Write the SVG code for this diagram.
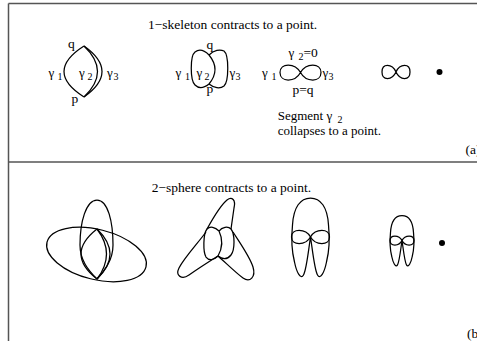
<svg xmlns="http://www.w3.org/2000/svg" width="477" height="341" viewBox="0 0 477 341">
<style>
.ln{fill:none;stroke:#000;stroke-width:1.25;stroke-linejoin:round}
.fr{fill:none;stroke:#555;stroke-width:1.5}
.t{font-family:"Liberation Serif","Times New Roman",serif;font-size:13.5px;fill:#000}
.c{font-family:"Liberation Serif","Times New Roman",serif;font-size:13px;fill:#000}
.g{font-family:"Liberation Serif","Times New Roman",serif;font-size:13px;fill:#000}
.s{font-family:"Liberation Serif","Times New Roman",serif;font-size:10px;fill:#000}
.dot{fill:#000}
</style>
<g id="frame">
<line class="fr" x1="8.5" y1="3.5" x2="477" y2="3.5"/>
<line class="fr" x1="8.5" y1="3.5" x2="8.5" y2="341"/>
<line class="fr" x1="8.5" y1="162" x2="477" y2="162"/>
</g>
<g id="panel-a">
<text class="t" x="148" y="28.5">1−skeleton contracts to a point.</text>
<g id="a1">
<path class="ln" d="M84,46 Q44,71.5 84,97"/>
<path class="ln" d="M84,46 Q111,71.5 84,97"/>
<path class="ln" d="M84,46 Q120,71.5 84,97"/>
<text class="t" x="68" y="47.5">q</text>
<text class="t" x="71.5" y="103">p</text>
<text class="g" x="48.5" y="77">γ</text><text class="s" x="57.5" y="80">1</text>
<text class="g" x="79" y="77">γ</text><text class="s" x="87.5" y="80">2</text>
<text class="g" x="107" y="77">γ</text><text class="s" x="113.5" y="80">3</text>
</g>
<g id="a2">
<path class="ln" d="M209,55 C204,50 199,49 195,52 C190,56 190,80 195,85 C199,89 204,88 209,84"/>
<path class="ln" d="M209,55 Q221,69.5 209,84"/>
<path class="ln" d="M209,55 C214,50 220,49 224,51 C229,55 229,81 224,86 C220,89 214,88 209,84"/>
<text class="t" x="206.5" y="49">q</text>
<text class="t" x="206.5" y="93">p</text>
<text class="g" x="175.5" y="77">γ</text><text class="s" x="185" y="80">1</text>
<text class="g" x="196.5" y="77">γ</text><text class="s" x="204.5" y="80">2</text>
<text class="g" x="229.5" y="77">γ</text><text class="s" x="235.5" y="80">3</text>
</g>
<g id="a3">
<path class="ln" d="M300.5,72.5 C306,62.5 321,62.5 321,72.5 C321,82.5 306,82.5 300.5,72.5 C295,62.5 280,62.5 280,72.5 C280,82.5 295,82.5 300.5,72.5 Z"/>
<text class="g" x="288.5" y="57">γ</text><text class="s" x="298.5" y="60">2</text><text class="t" x="303.5" y="57">=0</text>
<text class="g" x="262" y="77">γ</text><text class="s" x="271.5" y="80">1</text>
<text class="g" x="322.5" y="77">γ</text><text class="s" x="328.5" y="80">3</text>
<text class="t" x="292.5" y="94">p=q</text>
<text class="c" x="277.7" y="120">Segment  γ</text><text class="s" x="337.5" y="122.5">2</text>
<text class="c" x="277.7" y="134.5">collapses to a point.</text>
</g>
<g id="a4">
<path class="ln" d="M396,72 C400,63.3 410,63.3 410,72 C410,80.7 400,80.7 396,72 C392,63.3 382,63.3 382,72 C382,80.7 392,80.7 396,72 Z"/>
</g>
<g id="a5"><circle class="dot" cx="439.5" cy="72" r="3"/></g>
<text class="t" x="465.5" y="153.5">(a)</text>
</g>
<g id="panel-b">
<text class="t" x="151.7" y="192">2−sphere contracts to a point.</text>
<g id="b1">
<ellipse class="ln" cx="96.5" cy="254.5" rx="51" ry="25" transform="rotate(14 96.5 254.5)"/>
<path class="ln" d="M97,279 C88,270 80,260 80,245 C80,222 86,200 97,200 C108,200 113,222 113,245 C113,260 105,270 97,279 Z"/>
<path class="ln" d="M97,229 Q65,254 97,279"/>
<path class="ln" d="M97,229 Q116,254 97,279"/>
<path class="ln" d="M97,229 Q123,254 97,279"/>
</g>
<g id="b2">
<path class="ln" d="M219,231 C215,227 210,226 207,229 C203,234 203,252 206,257 C209,261 214,260 218,256"/>
<path class="ln" d="M219,231 Q225,243.5 218,256"/>
<path class="ln" d="M219,231 C222,227 228,226 231,229 C235,234 235,250 231,255 C227,260 222,259 218,256"/>
<path class="ln" d="M207,229 C212,220 222,204 227,200 C232,196 236,200 234,208 C233,215 232,222 231,229"/>
<path class="ln" d="M206,232 C198,243 184,258 179,268 C175,276 182,280 189,275 C199,268 210,261 218,256"/>
<path class="ln" d="M233,232 C240,243 250,257 253,267 C256,277 250,283 243,278 C236,273 226,263 218,256"/>
</g>
<defs>
<path id="dome" d="M0,0 C-2,13 -4,33 -7,38 C-10,43 -14,35 -16,25 C-19,13 -19,-2 -18,-12 C-17,-30 -10,-39 0,-39 C10,-39 17,-30 18,-12 C19,-2 19,13 16,25 C14,35 10,43 7,38 C4,33 2,13 0,0 Z"/>
</defs>
<g id="b3">
<use href="#dome" class="ln" transform="translate(310.5,237)"/>
<path class="ln" d="M310.5,237 C315.5,228.3 329.5,228.3 329.5,237 C329.5,245.7 315.5,245.7 310.5,237 C305.5,228.3 291.5,228.3 291.5,237 C291.5,245.7 305.5,245.7 310.5,237 Z"/>
</g>
<g id="b4">
<use href="#dome" class="ln" transform="translate(402,240.5) scale(0.64)" style="stroke-width:1.95"/>
<path class="ln" d="M402,240.5 C405,234.5 414,234.5 414,240.5 C414,246.5 405,246.5 402,240.5 C399,234.5 390,234.5 390,240.5 C390,246.5 399,246.5 402,240.5 Z"/>
</g>
<g id="b5"><circle class="dot" cx="442" cy="243" r="3"/></g>
<text class="t" x="467" y="337.5">(b)</text>
</g>
</svg>
